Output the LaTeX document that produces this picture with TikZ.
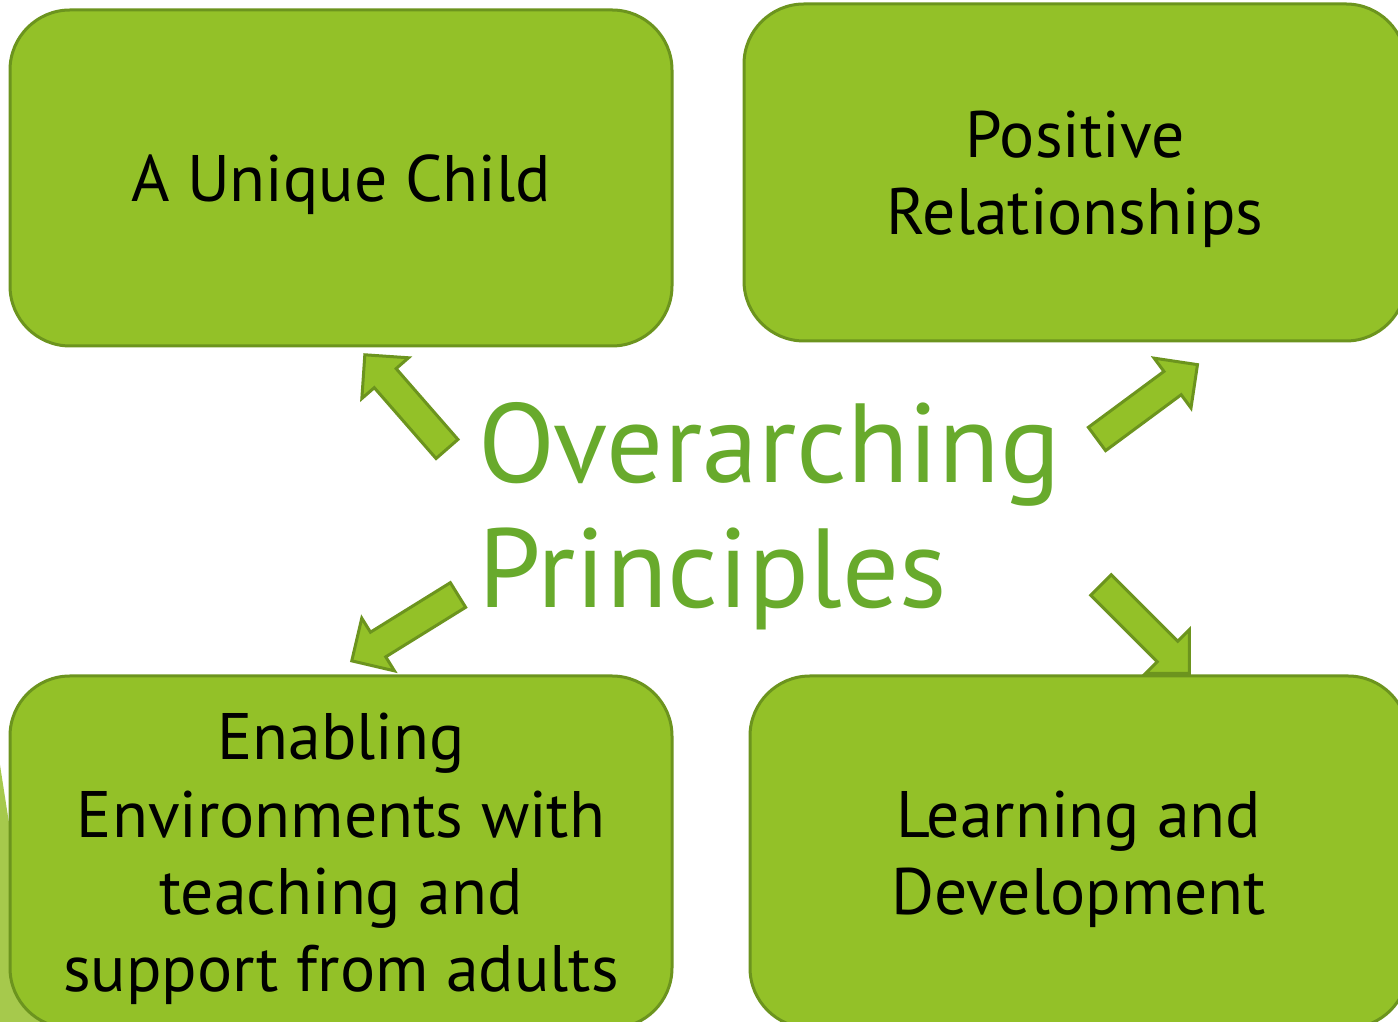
\documentclass[tikz,border=0pt]{standalone}
\usepackage{fontspec}
\setmainfont{PT Sans}
\definecolor{boxgreen}{RGB}{147,193,40}
\definecolor{edgegreen}{RGB}{108,148,30}
\definecolor{titlegreen}{RGB}{104,170,44}
\definecolor{palegreen}{RGB}{166,201,76}
\tikzset{
  box/.style={draw=edgegreen, line width=0.3mm, fill=boxgreen, rounded corners=6mm},
  boxtext/.style={align=center, font=\fontsize{18.7}{22}\selectfont, text=black},
  blockarrow/.style={draw=edgegreen, line width=0.3mm, fill=boxgreen, line join=miter}
}
% block arrow: #1 = tail point, #2 = direction
\newcommand{\bigarrow}[2]{%
  \draw[blockarrow, shift={#1}, rotate=#2]
    (0,-14.5) -- (94,-14.5) -- (94,-31) -- (125,0) -- (94,31) -- (94,14.5) -- (0,14.5) -- cycle;}
\begin{document}
\begin{tikzpicture}[x=0.1mm, y=-0.1mm]
\useasboundingbox (0,0) rectangle (1398,1022);
\clip (0,0) rectangle (1398,1022);
\fill[white] (0,0) rectangle (1398,1022);
% pale slant at the left edge
\fill[palegreen] (0,765) -- (40,1022) -- (0,1022) -- cycle;
% the four boxes
\node[box, minimum width=66.2mm, minimum height=33.6mm] (child) at (341,178) {};
\node[box, minimum width=66.2mm, minimum height=33.7mm] (relations) at (1075,172.5) {};
\node[box, minimum width=66.2mm, minimum height=35.2mm] (enabling) at (341,852) {};
\node[box, minimum width=65.8mm, minimum height=35.2mm] (learning) at (1079,852) {};
\node[boxtext] (childtext) at ([yshift=-0.7mm]child.center) {A Unique Child};
\node[boxtext] (relationstext) at ([yshift=-0.7mm]relations.center) {Positive\\Relationships};
\node[boxtext] (enablingtext) at ([yshift=-0.7mm]enabling.center)
  {Enabling\\Environments with\\teaching and\\support from adults};
\node[boxtext] (learningtext) at ([yshift=-0.7mm]learning.center) {Learning and\\Development};
% centre text
\node[anchor=north west, align=left, text=titlegreen, inner sep=0pt,
  font=\fontsize{32}{35.6}\selectfont] (principles) at (478,402) {Overarching\\Principles};
% arrows
\bigarrow{(447,449)}{131.1}
\bigarrow{(1097,439)}{36.5}
\bigarrow{(458,595)}{211.8}
\bigarrow{(1101,585)}{-45}
\end{tikzpicture}
\end{document}
